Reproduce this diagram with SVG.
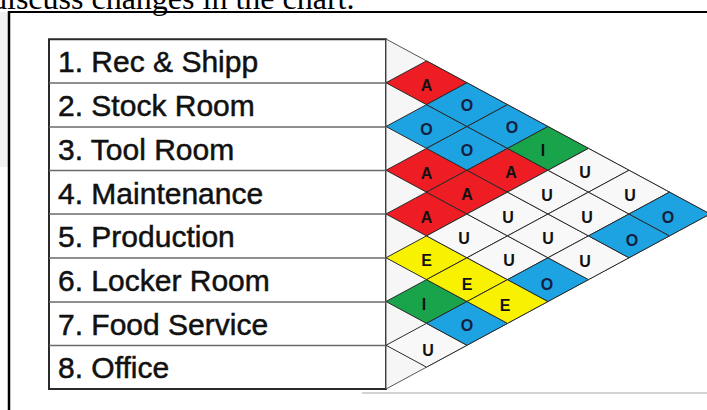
<svg xmlns="http://www.w3.org/2000/svg" xmlns:xlink="http://www.w3.org/1999/xlink" width="707" height="410" viewBox="0 0 707 410">
<style>
.hdr{font-family:"Liberation Serif","Times New Roman",serif;font-size:32px;fill:#000}
.lbl{font-family:"Liberation Sans",Arial,sans-serif;font-size:30px;fill:#111;stroke:#111;stroke-width:0.5}
.sep{stroke:#6a6a6a;stroke-width:1.5}
.cell{stroke:#2a2a2a;stroke-width:1;stroke-linejoin:round}
.red{fill:#ee1c23}
.blue{fill:#1ea3e2}
.green{fill:#19a44c}
.yellow{fill:#f8f200}
.white{fill:#f8f8f8}
.ltr{font-family:"Liberation Sans",Arial,sans-serif;font-size:16px;font-weight:bold;fill:#111;text-anchor:middle}
.ltr.o{fill:#142040}
</style>
<defs>
<polygon id="dia" points="-40.5,0 0,-21.875 40.5,0 0,21.875"/>
</defs>
<rect width="707" height="410" fill="#fff"/>
<rect x="0" y="12" width="8" height="155" fill="#f1f1f1"/>
<text class="hdr" x="-9" y="9">discuss changes in the chart.</text>
<g id="frame" fill="none" stroke="#000">
<line x1="9" y1="12" x2="707" y2="12" stroke-width="2"/>
<line x1="9" y1="11" x2="9" y2="410" stroke-width="2.5"/>
<line x1="362" y1="393" x2="707" y2="393" stroke="#c4c4c4" stroke-width="1.5"/>
</g>
<g id="table">
<rect x="49" y="39.25" width="337" height="349.75" fill="#fff" stroke="#2a2a2a" stroke-width="2"/>
<g id="row1"><text class="lbl" x="58" y="72">1. Rec &amp; Shipp</text></g>
<line class="sep" x1="49" y1="83" x2="386" y2="83"/>
<g id="row2"><text class="lbl" x="58" y="116">2. Stock Room</text></g>
<line class="sep" x1="49" y1="127" x2="386" y2="127"/>
<g id="row3"><text class="lbl" x="58" y="160">3. Tool Room</text></g>
<line class="sep" x1="49" y1="170.5" x2="386" y2="170.5"/>
<g id="row4"><text class="lbl" x="58" y="203.5">4. Maintenance</text></g>
<line class="sep" x1="49" y1="214" x2="386" y2="214"/>
<g id="row5"><text class="lbl" x="58" y="247">5. Production</text></g>
<line class="sep" x1="49" y1="258" x2="386" y2="258"/>
<g id="row6"><text class="lbl" x="58" y="291">6. Locker Room</text></g>
<line class="sep" x1="49" y1="302" x2="386" y2="302"/>
<g id="row7"><text class="lbl" x="58" y="334.5">7. Food Service</text></g>
<line class="sep" x1="49" y1="345.5" x2="386" y2="345.5"/>
<g id="row8"><text class="lbl" x="58" y="378">8. Office</text></g>
</g>
<g id="matrix">
<polygon points="386,39 710,214 386,389" fill="#f6f6f6" stroke="#555" stroke-width="1"/>
<g id="c12"><use xlink:href="#dia" class="cell red" x="426.5" y="82.75"/><text class="ltr" x="426.5" y="90.5">A</text></g>
<g id="c23"><use xlink:href="#dia" class="cell blue" x="426.5" y="126.5"/><text class="ltr o" x="426.5" y="134.5">O</text></g>
<g id="c34"><use xlink:href="#dia" class="cell red" x="426.5" y="170.25"/><text class="ltr" x="426.5" y="178.5">A</text></g>
<g id="c45"><use xlink:href="#dia" class="cell red" x="426.5" y="214"/><text class="ltr" x="426.5" y="222.5">A</text></g>
<g id="c56"><use xlink:href="#dia" class="cell yellow" x="426.5" y="257.75"/><text class="ltr" x="426.5" y="266">E</text></g>
<g id="c67"><use xlink:href="#dia" class="cell green" x="426.5" y="301.5"/><text class="ltr" x="424" y="309.5">I</text></g>
<g id="c78"><use xlink:href="#dia" class="cell white" x="426.5" y="345.25"/><text class="ltr" x="428" y="356">U</text></g>
<g id="c13"><use xlink:href="#dia" class="cell blue" x="467" y="104.625"/><text class="ltr o" x="467" y="111">O</text></g>
<g id="c24"><use xlink:href="#dia" class="cell blue" x="467" y="148.375"/><text class="ltr o" x="467" y="156">O</text></g>
<g id="c35"><use xlink:href="#dia" class="cell red" x="467" y="192.125"/><text class="ltr" x="467" y="199.5">A</text></g>
<g id="c46"><use xlink:href="#dia" class="cell white" x="467" y="235.875"/><text class="ltr" x="464" y="244">U</text></g>
<g id="c57"><use xlink:href="#dia" class="cell yellow" x="467" y="279.625"/><text class="ltr" x="467" y="290">E</text></g>
<g id="c68"><use xlink:href="#dia" class="cell blue" x="467" y="323.375"/><text class="ltr o" x="467" y="331">O</text></g>
<g id="c14"><use xlink:href="#dia" class="cell blue" x="507.5" y="126.5"/><text class="ltr o" x="512" y="133">O</text></g>
<g id="c25"><use xlink:href="#dia" class="cell red" x="507.5" y="170.25"/><text class="ltr" x="511" y="178">A</text></g>
<g id="c36"><use xlink:href="#dia" class="cell white" x="507.5" y="214"/><text class="ltr" x="508" y="222.5">U</text></g>
<g id="c47"><use xlink:href="#dia" class="cell white" x="507.5" y="257.75"/><text class="ltr" x="509" y="266">U</text></g>
<g id="c58"><use xlink:href="#dia" class="cell yellow" x="507.5" y="301.5"/><text class="ltr" x="505" y="310.5">E</text></g>
<g id="c15"><use xlink:href="#dia" class="cell green" x="548" y="148.375"/><text class="ltr" x="543" y="156">I</text></g>
<g id="c26"><use xlink:href="#dia" class="cell white" x="548" y="192.125"/><text class="ltr" x="547" y="200.5">U</text></g>
<g id="c37"><use xlink:href="#dia" class="cell white" x="548" y="235.875"/><text class="ltr" x="548" y="244">U</text></g>
<g id="c48"><use xlink:href="#dia" class="cell blue" x="548" y="279.625"/><text class="ltr o" x="547" y="290">O</text></g>
<g id="c16"><use xlink:href="#dia" class="cell white" x="588.5" y="170.25"/><text class="ltr" x="585" y="178">U</text></g>
<g id="c27"><use xlink:href="#dia" class="cell white" x="588.5" y="214"/><text class="ltr" x="587" y="222.5">U</text></g>
<g id="c38"><use xlink:href="#dia" class="cell white" x="588.5" y="257.75"/><text class="ltr" x="585" y="267">U</text></g>
<g id="c17"><use xlink:href="#dia" class="cell white" x="629" y="192.125"/><text class="ltr" x="630" y="200.5">U</text></g>
<g id="c28"><use xlink:href="#dia" class="cell blue" x="629" y="235.875"/><text class="ltr o" x="632" y="245.5">O</text></g>
<g id="c18"><use xlink:href="#dia" class="cell blue" x="669.5" y="214"/><text class="ltr o" x="668" y="223">O</text></g>
</g>
</svg>
